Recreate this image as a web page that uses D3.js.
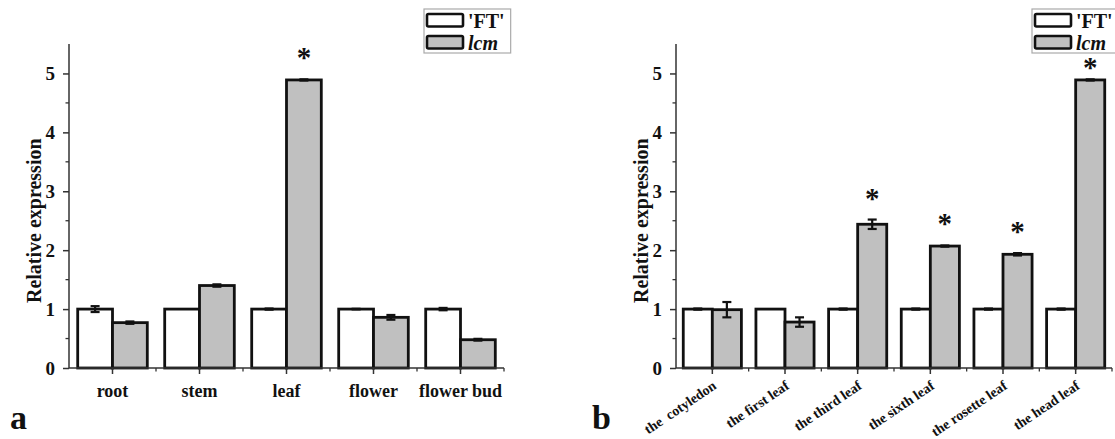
<!DOCTYPE html>
<html>
<head>
<meta charset="utf-8">
<script src="https://cdn.jsdelivr.net/npm/d3@7"></script>
<style>
  body { margin: 0; background: #fff; }
  svg { display: block; }
  text { font-family: "Liberation Serif", "Times New Roman", serif; font-weight: bold; fill: #111; }
</style>
</head>
<body>
<svg id="chart" width="1115" height="439"></svg>
<script>
// panel a - tissues
var tissues = ["root", "stem", "leaf", "flower", "flower bud"];
var tissueFT = [1.0, 1.0, 1.0, 1.0, 1.0];
var tissueFTErr = [0.05, 0.0, 0.01, 0.005, 0.02];
var tissueLcm = [0.77, 1.40, 4.89, 0.86, 0.48];
var tissueLcmErr = [0.02, 0.02, 0.01, 0.04, 0.015];
var tissueSig = [false, false, true, false, false];

// panel b - leaf stages
var stages = ["the  cotyledon", "the first leaf", "the third leaf", "the sixth leaf", "the rosette leaf", "the head leaf"];
var stageFT = [1.0, 1.0, 1.0, 1.0, 1.0, 1.0];
var stageFTErr = [0.01, 0.0, 0.01, 0.01, 0.01, 0.01];
var stageLcm = [0.99, 0.78, 2.44, 2.07, 1.93, 4.89];
var stageLcmErr = [0.13, 0.08, 0.08, 0.01, 0.02, 0.01];
var stageSig = [false, false, true, true, true, true];

var yTicks = [0, 1, 2, 3, 4, 5];
var yMinor = [0.5, 1.5, 2.5, 3.5, 4.5];
var seriesNames = ["'FT'", "lcm"];
var seriesFill = ["#ffffff", "#c0c0c0"];

var svg = d3.select("#chart");

function drawPanel(opt) {
	var g = svg.append("g");

	var x = d3.scaleBand()
		.domain(opt.cats)
		.range([opt.left, opt.right])
		.paddingInner(0.2)
		.paddingOuter(0.1);

	var xs = d3.scaleBand()
		.domain([0, 1])
		.range([0, x.bandwidth()]);

	var y = d3.scaleLinear()
		.domain([0, 5.5])
		.range([368, 44]);

	var legendBottom = 53;

	// bars
	var rows = opt.cats.map(function (c, i) {
		return [
			{ cat: c, s: 0, v: opt.ft[i], e: opt.ftErr[i] },
			{ cat: c, s: 1, v: opt.lcm[i], e: opt.lcmErr[i], sig: opt.sig[i] }
		];
	});
	var flat = [].concat.apply([], rows);
	var cx = function (d) { return x(d.cat) + xs(d.s) + xs.bandwidth() / 2; };

	g.selectAll(".bar")
		.data(flat)
		.enter()
		.append("rect")
		.attr("class", "bar")
		.attr("x", function (d) { return x(d.cat) + xs(d.s); })
		.attr("y", function (d) { return y(d.v); })
		.attr("width", xs.bandwidth())
		.attr("height", function (d) { return y(0) - y(d.v); })
		.attr("fill", function (d) { return seriesFill[d.s]; })
		.attr("stroke", "#111")
		.attr("stroke-width", 2.8);

	// error bars
	var eb = g.selectAll(".err")
		.data(flat.filter(function (d) { return d.e > 0; }))
		.enter()
		.append("g")
		.attr("class", "err")
		.attr("stroke", "#111")
		.attr("stroke-width", 2.2);
	eb.append("line")
		.attr("x1", cx).attr("x2", cx)
		.attr("y1", function (d) { return y(d.v + d.e); })
		.attr("y2", function (d) { return y(d.v - d.e); });
	[1, -1].forEach(function (sgn) {
		eb.append("line")
			.attr("x1", function (d) { return cx(d) - 4.5; })
			.attr("x2", function (d) { return cx(d) + 4.5; })
			.attr("y1", function (d) { return y(d.v + sgn * d.e); })
			.attr("y2", function (d) { return y(d.v + sgn * d.e); });
	});

	// significance asterisks (kept clear of the legend box)
	g.selectAll(".star")
		.data(flat.filter(function (d) { return d.sig; }))
		.enter()
		.append("text")
		.attr("class", "star")
		.attr("x", cx)
		.attr("y", function (d) {
			var mid = y(d.v + d.e) - 27;
			if (cx(d) > opt.legendX - 10 && mid < legendBottom + 10) mid = legendBottom + 9;
			return mid + 15;
		})
		.attr("text-anchor", "middle")
		.style("font-size", "29px")
		.text("*");

	// y axis
	var yAxis = g.append("g")
		.attr("transform", "translate(" + opt.left + ",0)")
		.call(d3.axisLeft(y).tickValues(yTicks).tickSize(6).tickPadding(8).tickFormat(d3.format("d")));
	yAxis.select(".domain").attr("d", "M0," + y(5.5) + "V" + y(0));
	yAxis.selectAll("text").style("font-size", "19px").attr("dy", "0.34em");
	g.append("g")
		.attr("transform", "translate(" + opt.left + ",0)")
		.selectAll("line")
		.data(yMinor)
		.enter()
		.append("line")
		.attr("x1", -3.5).attr("x2", 0)
		.attr("y1", function (d) { return y(d); })
		.attr("y2", function (d) { return y(d); })
		.attr("stroke", "#333").attr("stroke-width", 1.3);

	// x axis
	var xAxis = g.append("g")
		.attr("transform", "translate(0," + y(0) + ")")
		.call(d3.axisBottom(x).tickSize(6).tickSizeOuter(0).tickPadding(8));
	xAxis.select(".domain").attr("d", "M" + opt.left + ",0H" + opt.right);
	var bounds = opt.cats.slice(1).map(function (c) { return x(c) - x.step() * x.paddingInner() / 2; });
	bounds.push(opt.right);
	xAxis.selectAll(".minor")
		.data(bounds)
		.enter()
		.append("line")
		.attr("class", "minor")
		.attr("x1", function (d) { return d; })
		.attr("x2", function (d) { return d; })
		.attr("y1", 0).attr("y2", 3.5)
		.attr("stroke", "#333").attr("stroke-width", 1.3);

	[yAxis, xAxis].forEach(function (a) {
		a.selectAll(".domain").attr("stroke", "#333").attr("stroke-width", 1.5);
		a.selectAll(".tick line").attr("stroke", "#333").attr("stroke-width", 1.5);
	});

	if (opt.rotate) {
		xAxis.selectAll(".tick text")
			.style("font-size", "14px")
			.style("white-space", "pre")
			.attr("text-anchor", "end")
			.attr("x", 0).attr("y", 0).attr("dy", "0")
			.attr("transform", "translate(5,20) rotate(-34)");
	} else {
		xAxis.selectAll(".tick text").style("font-size", "18px").attr("dy", "0.85em");
	}

	// y title
	g.append("text")
		.attr("transform", "translate(" + (opt.left - 28) + "," + y(2.5) + ") rotate(-90)")
		.attr("text-anchor", "middle")
		.style("font-size", "20px")
		.text("Relative expression");

	// panel letter
	g.append("text")
		.attr("x", opt.letterX)
		.attr("y", 429)
		.style("font-size", "34px")
		.text(opt.letter);

	// legend
	var lg = g.append("g").attr("transform", "translate(" + opt.legendX + ",9)");
	var frame = lg.append("rect")
		.attr("x", 0).attr("y", 0)
		.attr("height", legendBottom - 9)
		.attr("fill", "#fff")
		.attr("stroke", "#aaa").attr("stroke-width", 1.2);
	var items = lg.selectAll(".item")
		.data(seriesNames)
		.enter()
		.append("g")
		.attr("transform", function (d, i) { return "translate(3," + (5 + i * 22) + ")"; });
	items.append("rect")
		.attr("width", 36).attr("height", 12.5)
		.attr("rx", 1.5)
		.attr("fill", function (d, i) { return seriesFill[i]; })
		.attr("stroke", "#111").attr("stroke-width", 2.6);
	var labels = items.append("text")
		.attr("x", 41).attr("y", 13.5)
		.style("font-size", "20px")
		.style("font-style", function (d, i) { return i === 1 ? "italic" : "normal"; })
		.text(function (d) { return d; });
	var wMax = d3.max(labels.nodes(), function (n) { return n.getComputedTextLength(); });
	frame.attr("width", 3 + 41 + wMax + 6);
}

drawPanel({
	cats: tissues, ft: tissueFT, ftErr: tissueFTErr, lcm: tissueLcm, lcmErr: tissueLcmErr, sig: tissueSig,
	left: 69, right: 504, rotate: false, letter: "a", letterX: 10, legendX: 424
});

drawPanel({
	cats: stages, ft: stageFT, ftErr: stageFTErr, lcm: stageLcm, lcmErr: stageLcmErr, sig: stageSig,
	left: 676, right: 1112, rotate: true, letter: "b", letterX: 592, legendX: 1032
});
</script>
</body>
</html>
